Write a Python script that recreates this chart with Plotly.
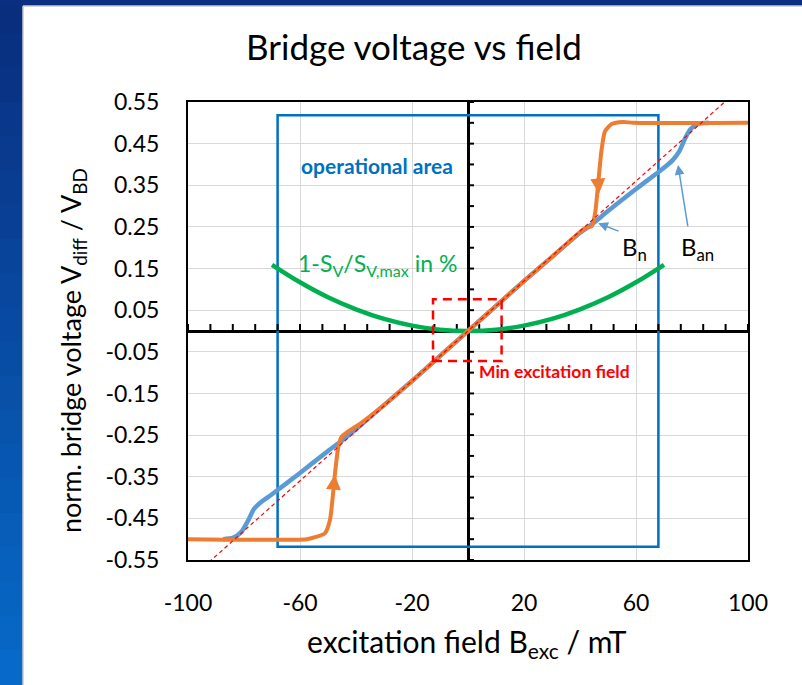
import plotly.graph_objects as go
import numpy as np

# ---------------- data ----------------
# ideal linear response (red dashed)
ideal_x = [-100, 100]
ideal_y = [-0.6, 0.6]

# blue curve (with anisotropy field knees)
blue_x = [-87.5, -84, -81, -78.5, -76.5, -74.3, -70, -60, -50, -44, -40, -30, -20, -10, 0,
          10, 20, 30, 40, 44, 50, 60, 70, 73.2, 75.5, 77.5, 79.5, 82, 86]
blue_y = [-0.500, -0.497, -0.483, -0.455, -0.428, -0.413, -0.392, -0.341, -0.288, -0.258, -0.236,
          -0.178, -0.120, -0.060, 0.0, 0.060, 0.120, 0.178, 0.236, 0.255, 0.288, 0.341, 0.392,
          0.411, 0.432, 0.462, 0.485, 0.497, 0.500]

# orange curve (switching at Bn)
orange_x = [-100, -57.6, -54, -51.1, -49.3, -48.3, -47.5, -46.3, -45.1, -42.1, -38.6, -30, -20, -10, 0,
            10, 20, 30, 38, 41.8, 44.2, 45.4, 46.5, 47.7, 48.9, 51.3, 55.4, 59, 100]
orange_y = [-0.500, -0.500, -0.494, -0.486, -0.454, -0.398, -0.342, -0.278, -0.254, -0.238, -0.223,
            -0.178, -0.120, -0.060, 0.0, 0.060, 0.120, 0.178, 0.226, 0.247, 0.252, 0.283, 0.355,
            0.435, 0.479, 0.497, 0.502, 0.500, 0.500]

# green sensitivity loss curve
green_x = [-70, -60, -50, -40, -30, -20, -10, 0, 10, 20, 30, 40, 50, 60, 70]
green_y = [0.159, 0.117, 0.081, 0.052, 0.029, 0.013, 0.003, 0.0, 0.003, 0.013, 0.029, 0.052,
           0.081, 0.117, 0.159]

# operational area and min excitation field boxes
op_area_x = [-68, 68]
op_area_y = [-0.518, 0.518]
min_exc_x = [-12.5, 12]
min_exc_y = [-0.072, 0.076]

x_tickvals = [-100, -60, -20, 20, 60, 100]
x_ticktext = ["-100", "-60", "-20", "20", "60", "100"]
y_tickvals = [0.55, 0.45, 0.35, 0.25, 0.15, 0.05, -0.05, -0.15, -0.25, -0.35, -0.45, -0.55]
y_ticktext = ["0.55", "0.45", "0.35", "0.25", "0.15", "0.05", "-0.05", "-0.15", "-0.25",
              "-0.35", "-0.45", "-0.55"]
minor_x = list(range(-100, 101, 8))
minor_y = [round(v, 2) for v in np.arange(-0.55, 0.5501, 0.05)]

FONT = "Lato"
ORANGE = "#ED7D31"
BLUE = "#5B9BD5"
GREEN = "#00B050"
DBLUE = "#0070C0"

fig = go.Figure()
fig.add_trace(go.Scatter(x=green_x, y=green_y, mode="lines", line=dict(color=GREEN, width=4.5, shape="spline")))
fig.add_trace(go.Scatter(x=blue_x, y=blue_y, mode="lines", line=dict(color=BLUE, width=4.5, shape="spline", smoothing=0.6)))
fig.add_trace(go.Scatter(x=orange_x, y=orange_y, mode="lines", line=dict(color=ORANGE, width=4, shape="spline", smoothing=0.6)))
fig.add_trace(go.Scatter(x=ideal_x, y=ideal_y, mode="lines", line=dict(color="#FF0000", width=1.2, dash="4px,3px")))

shapes = []
# background (page)
L, R, T, B = 188, 748, 102, 560
def px(xp): return (xp - L) / (R - L)
def py(yp): return (B - yp) / (B - T)
nb = 20
for i in range(nb):
    t = i / (nb - 1)
    c0 = np.array([0x0a, 0x2e, 0x7e]); c1 = np.array([0x07, 0x6a, 0xc8])
    c = c0 + (c1 - c0) * t
    shapes.append(dict(type="rect", xref="paper", yref="paper", x0=px(-2), x1=px(23),
                       y0=py(685 * (i + 1) / nb + 1), y1=py(685 * i / nb - 1),
                       fillcolor="rgb(%d,%d,%d)" % tuple(c), line=dict(width=0), layer="below"))
shapes.append(dict(type="rect", xref="paper", yref="paper", x0=px(-2), x1=px(804), y0=py(6), y1=py(-2),
                   fillcolor="#0b2f80", line=dict(width=0), layer="below"))
shapes.append(dict(type="line", xref="paper", yref="paper", x0=px(23), x1=px(23), y0=py(686), y1=py(6),
                   line=dict(color="#c8c8c8", width=1.5), layer="below"))
shapes.append(dict(type="line", xref="paper", yref="paper", x0=px(23), x1=px(803), y0=py(6), y1=py(6),
                   line=dict(color="#c8c8c8", width=1.5), layer="below"))

# boxes
shapes.append(dict(type="rect", xref="x", yref="y", x0=op_area_x[0], x1=op_area_x[1], y0=op_area_y[0],
                   y1=op_area_y[1], line=dict(color=DBLUE, width=2.5), layer="between"))
shapes.append(dict(type="rect", xref="x", yref="y", x0=min_exc_x[0], x1=min_exc_x[1], y0=min_exc_y[0],
                   y1=min_exc_y[1], line=dict(color="#FF0000", width=2.5, dash="9px,6px")))
# tick marks on the zero axes
for v in minor_x:
    shapes.append(dict(type="line", xref="x", yref="y", x0=v, x1=v, ysizemode="pixel", yanchor=0,
                       y0=0, y1=7, line=dict(color="black", width=2), layer="between"))
for v in minor_y:
    shapes.append(dict(type="line", xref="x", yref="y", y0=v, y1=v, xsizemode="pixel", xanchor=0,
                       x0=0, x1=6, line=dict(color="black", width=2), layer="between"))

ann = []
ann.append(dict(text="Bridge voltage vs field", xref="paper", yref="paper", x=px(414), y=py(46),
                xanchor="center", yanchor="middle",
                showarrow=False, font=dict(family=FONT, size=35, color="black")))
ann.append(dict(text="excitation field B<sub>exc</sub> / mT", xref="paper", yref="paper", x=px(467), y=py(643),
                xanchor="center", yanchor="middle",
                showarrow=False, font=dict(family=FONT, size=30, color="black")))
ann.append(dict(text="norm. bridge voltage V<sub>diff</sub> / V<sub>BD</sub>", xref="paper", yref="paper",
                x=px(72), y=py(350), textangle=-90, showarrow=False, xanchor="center", yanchor="middle",
                font=dict(family=FONT, size=27, color="black")))
ann.append(dict(text="<b>operational area</b>", x=(299 - 468) / 2.8, y=(331 - 165) / 416.4, xanchor="left",
                yanchor="middle", showarrow=False, font=dict(family=FONT, size=21, color=DBLUE)))
ann.append(dict(text="1-S<sub>V</sub>/S<sub>V,max</sub> in %", x=-61.5, y=0.16, xanchor="left",
                yanchor="middle", showarrow=False, font=dict(family=FONT, size=23, color=GREEN)))
ann.append(dict(text="<b>Min excitation field</b>", x=3.3, y=-0.098, xanchor="left", yanchor="middle",
                showarrow=False, font=dict(family=FONT, size=17.5, color="#FF0000")))
ann.append(dict(text="B<sub>n</sub>", x=59.3, y=0.198, showarrow=False, yanchor="middle",
                font=dict(family=FONT, size=24, color="black")))
ann.append(dict(text="B<sub>an</sub>", x=82, y=0.198, showarrow=False, yanchor="middle",
                font=dict(family=FONT, size=24, color="black")))
# blue pointer arrows
ann.append(dict(text="", x=46.5, y=0.2587, ax=54.3, ay=0.2385, axref="x", ayref="y", showarrow=True,
                arrowhead=2, arrowsize=1.3, arrowwidth=1.5, arrowcolor=BLUE))
ann.append(dict(text="", x=75, y=0.3987, ax=78.6, ay=0.2474, axref="x", ayref="y", showarrow=True,
                arrowhead=2, arrowsize=1.3, arrowwidth=1.5, arrowcolor=BLUE))
# orange direction arrows
ann.append(dict(text="", x=-47.6, y=-0.345, ax=-48.1, ay=-0.385, axref="x", ayref="y", showarrow=True,
                arrowhead=2, arrowsize=1, arrowwidth=3, arrowcolor=ORANGE))
ann.append(dict(text="", x=46.8, y=0.33, ax=46.3, ay=0.37, axref="x", ayref="y", showarrow=True,
                arrowhead=2, arrowsize=1, arrowwidth=3, arrowcolor=ORANGE))

fig.update_layout(
    width=802, height=685,
    margin=dict(l=L, r=802 - R, t=T, b=685 - B),
    paper_bgcolor="white", plot_bgcolor="white",
    showlegend=False, shapes=shapes, annotations=ann,
    font=dict(family=FONT, color="black"),
)
fig.update_xaxes(range=[-100, 100], tickvals=x_tickvals, ticktext=x_ticktext, showgrid=True,
                 gridcolor="#d9d9d9", gridwidth=1, zeroline=True, zerolinecolor="black", zerolinewidth=2.5,
                 showline=True, mirror=True, linecolor="black", linewidth=2, ticks="",
                 ticklabelstandoff=21, tickfont=dict(family=FONT, size=23, color="black"))
fig.update_yaxes(range=[-0.55, 0.55], tickvals=y_tickvals, ticktext=y_ticktext, showgrid=True,
                 gridcolor="#d9d9d9", gridwidth=1, zeroline=True, zerolinecolor="black", zerolinewidth=2.5,
                 showline=True, mirror=True, linecolor="black", linewidth=2, ticks="",
                 ticklabelstandoff=22, tickfont=dict(family=FONT, size=23, color="black"))

fig.write_html("out.html")
